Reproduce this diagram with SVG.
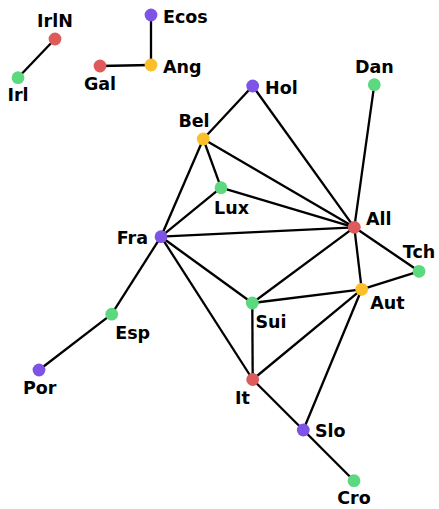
<svg xmlns="http://www.w3.org/2000/svg" width="439" height="509" viewBox="0 0 439 509">
<style>
.e{stroke:#000;stroke-width:2.3;fill:none}
.n{stroke:none}
.r{fill:#df5a5a}.g{fill:#5cd87f}.p{fill:#7d54e5}.o{fill:#fbbf2a}
text{font-family:"DejaVu Sans",sans-serif;font-weight:bold;font-size:17.5px;fill:#000}
.m{text-anchor:middle}.s{text-anchor:start}.x{text-anchor:end}
</style>
<rect width="439" height="509" fill="#fff"/>
<g id="edges">
<line class="e" x1="55" y1="39" x2="18" y2="77.7"/>
<line class="e" x1="151" y1="15" x2="151" y2="65"/>
<line class="e" x1="100" y1="66" x2="151" y2="65"/>
<line class="e" x1="252.7" y1="86" x2="203.3" y2="139"/>
<line class="e" x1="252.7" y1="86" x2="354.3" y2="227.3"/>
<line class="e" x1="374.3" y1="84.7" x2="354.3" y2="227.3"/>
<line class="e" x1="203.3" y1="139" x2="221" y2="187.7"/>
<line class="e" x1="203.3" y1="139" x2="354.3" y2="227.3"/>
<line class="e" x1="203.3" y1="139" x2="161" y2="236.7"/>
<line class="e" x1="221" y1="187.7" x2="354.3" y2="227.3"/>
<line class="e" x1="221" y1="187.7" x2="161" y2="236.7"/>
<line class="e" x1="161" y1="236.7" x2="354.3" y2="227.3"/>
<line class="e" x1="161" y1="236.7" x2="111.7" y2="314.2"/>
<line class="e" x1="161" y1="236.7" x2="252.3" y2="303"/>
<line class="e" x1="161" y1="236.7" x2="252.7" y2="379.5"/>
<line class="e" x1="111.7" y1="314.2" x2="39" y2="370"/>
<line class="e" x1="354.3" y1="227.3" x2="252.3" y2="303"/>
<line class="e" x1="354.3" y1="227.3" x2="361.7" y2="289.3"/>
<line class="e" x1="354.3" y1="227.3" x2="419" y2="271.3"/>
<line class="e" x1="419" y1="271.3" x2="361.7" y2="289.3"/>
<line class="e" x1="252.3" y1="303" x2="361.7" y2="289.3"/>
<line class="e" x1="252.3" y1="303" x2="252.7" y2="379.5"/>
<line class="e" x1="361.7" y1="289.3" x2="252.7" y2="379.5"/>
<line class="e" x1="361.7" y1="289.3" x2="303.3" y2="430"/>
<line class="e" x1="252.7" y1="379.5" x2="303.3" y2="430"/>
<line class="e" x1="303.3" y1="430" x2="354" y2="480.7"/>
</g>
<g id="IrlN"><circle class="n r" cx="55" cy="39" r="6.4"/><text class="m" x="55" y="27">IrlN</text></g>
<g id="Irl"><circle class="n g" cx="18" cy="77.7" r="6.4"/><text class="m" x="18" y="101">Irl</text></g>
<g id="Ecos"><circle class="n p" cx="151" cy="15" r="6.4"/><text class="s" x="163" y="23">Ecos</text></g>
<g id="Ang"><circle class="n o" cx="151" cy="65" r="6.4"/><text class="s" x="163" y="73">Ang</text></g>
<g id="Gal"><circle class="n r" cx="100" cy="66" r="6.4"/><text class="m" x="100" y="90">Gal</text></g>
<g id="Hol"><circle class="n p" cx="252.7" cy="86" r="6.4"/><text class="s" x="265" y="94">Hol</text></g>
<g id="Dan"><circle class="n g" cx="374.3" cy="84.7" r="6.4"/><text class="m" x="374.3" y="73">Dan</text></g>
<g id="Bel"><circle class="n o" cx="203.3" cy="139" r="6.4"/><text class="m" x="194" y="127">Bel</text></g>
<g id="Lux"><circle class="n g" cx="221" cy="187.7" r="6.4"/><text class="m" x="231.5" y="213.5">Lux</text></g>
<g id="All"><circle class="n r" cx="354.3" cy="227.3" r="6.4"/><text class="s" x="366" y="225">All</text></g>
<g id="Tch"><circle class="n g" cx="419" cy="271.3" r="6.4"/><text class="m" x="419" y="258">Tch</text></g>
<g id="Aut"><circle class="n o" cx="361.7" cy="289.3" r="6.4"/><text class="m" x="387.5" y="309">Aut</text></g>
<g id="Fra"><circle class="n p" cx="161" cy="236.7" r="6.4"/><text class="x" x="148" y="244">Fra</text></g>
<g id="Sui"><circle class="n g" cx="252.3" cy="303" r="6.4"/><text class="m" x="271" y="328">Sui</text></g>
<g id="Esp"><circle class="n g" cx="111.7" cy="314.2" r="6.4"/><text class="m" x="132.7" y="339">Esp</text></g>
<g id="Por"><circle class="n p" cx="39" cy="370" r="6.4"/><text class="m" x="39.7" y="394">Por</text></g>
<g id="It"><circle class="n r" cx="252.7" cy="379.5" r="6.4"/><text class="m" x="242.5" y="404">It</text></g>
<g id="Slo"><circle class="n p" cx="303.3" cy="430" r="6.4"/><text class="s" x="315" y="437">Slo</text></g>
<g id="Cro"><circle class="n g" cx="354" cy="480.7" r="6.4"/><text class="m" x="354" y="504">Cro</text></g>
</svg>
